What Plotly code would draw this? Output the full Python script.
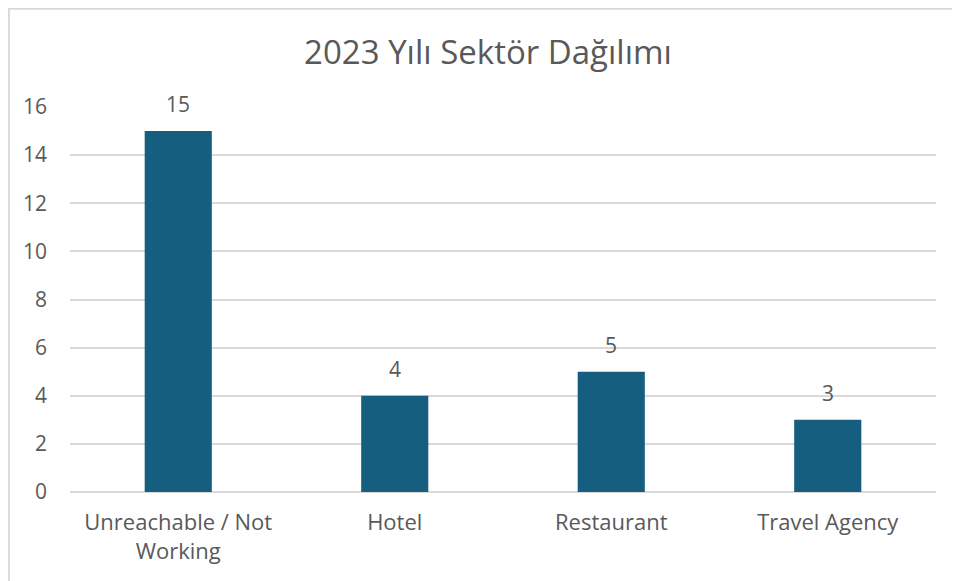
import plotly.graph_objects as go

categories = ["Unreachable / Not<br>Working", "Hotel", "Restaurant", "Travel Agency"]
counts = [15, 4, 5, 3]
y_ticks = [0, 2, 4, 6, 8, 10, 12, 14, 16]

BAR_COLOR = "#165E80"
TEXT_COLOR = "#595959"
GRID_COLOR = "#D9D9D9"
FONT = "Open Sans, Lato, sans-serif"

# the page body has an 8px default margin, so the figure is offset by it
fig = go.Figure()

fig.add_trace(
    go.Bar(
        x=categories,
        y=counts,
        marker=dict(color=BAR_COLOR, line=dict(width=0)),
        hoverinfo="x+y",
    )
)

# value labels above the bars
for cat, val in zip(categories, counts):
    fig.add_annotation(
        x=cat,
        y=val,
        text=str(val),
        showarrow=False,
        yanchor="bottom",
        yshift=11,
        font=dict(size=21, color=TEXT_COLOR, family=FONT),
    )

fig.update_layout(
    width=960,
    height=581,
    margin=dict(l=62, r=32, t=99, b=97),
    paper_bgcolor="white",
    plot_bgcolor="white",
    showlegend=False,
    bargap=0.69,
    font=dict(family=FONT, color=TEXT_COLOR),
    title=dict(
        text="2023 Yılı Sektör Dağılımı",
        x=0.5,
        xanchor="center",
        y=0.924,
        yanchor="middle",
        font=dict(size=33, color=TEXT_COLOR, family=FONT),
    ),
    xaxis=dict(
        showgrid=False,
        showline=False,
        ticks="",
        ticklabelstandoff=15,
        tickfont=dict(size=22, color=TEXT_COLOR),
    ),
    yaxis=dict(
        range=[0, 16],
        tickvals=y_ticks,
        showgrid=True,
        gridcolor=GRID_COLOR,
        gridwidth=1.5,
        zeroline=True,
        zerolinecolor=GRID_COLOR,
        zerolinewidth=1.5,
        showline=False,
        ticks="",
        ticklabelstandoff=22,
        tickfont=dict(size=21, color=TEXT_COLOR),
    ),
    shapes=[
        # chart area border (top and left edges visible)
        dict(
            type="rect",
            xref="paper",
            yref="paper",
            x0=-0.0706,
            x1=1.2,
            y0=-0.3,
            y1=1.255,
            line=dict(color=GRID_COLOR, width=2),
            fillcolor="rgba(0,0,0,0)",
            layer="below",
        )
    ],
)

fig.write_html("out.html")
